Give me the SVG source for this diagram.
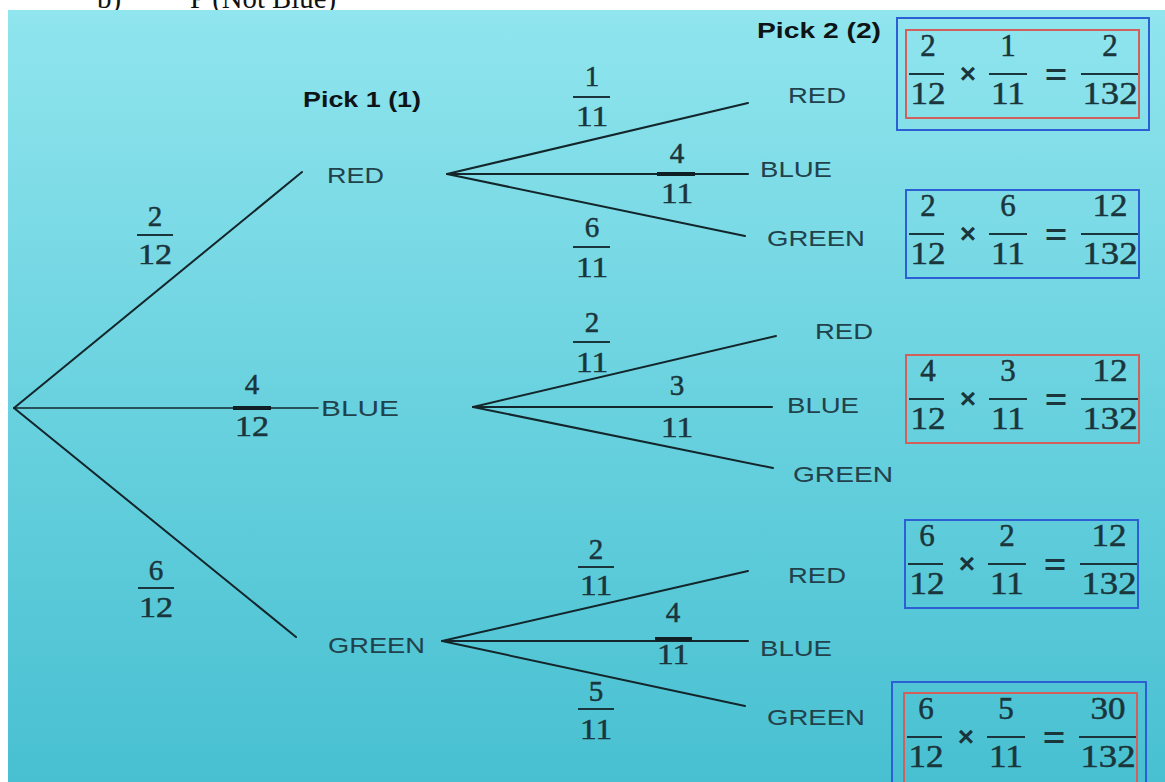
<svg xmlns="http://www.w3.org/2000/svg" width="1165" height="782" viewBox="0 0 1165 782">
<style>
.hdr{font-family:"Liberation Serif",serif;font-size:29px;fill:#111}
.lb{font-family:"Liberation Sans",Arial,sans-serif;font-size:22px;fill:#22424b}
.pk{font-family:"Liberation Sans",Arial,sans-serif;font-size:22px;font-weight:bold;fill:#0e1416}
.fr{font-family:"Liberation Serif",serif;font-size:29px;fill:#1a353b;stroke:#1a353b;stroke-width:0.5;text-anchor:middle}
.bx .fr{font-size:31px}
.op{font-family:"Liberation Sans",Arial,sans-serif;font-size:28px;font-weight:bold;fill:#1a353b;text-anchor:middle}
.ln{stroke:#13262b;stroke-width:2;fill:none;stroke-linecap:round}
.bar{stroke:#1a353b;stroke-width:2}
.tb{stroke:#0f1f24;stroke-width:4}
.bb{fill:none;stroke:#2d5fd4;stroke-width:2}
.rb{fill:none;stroke:#d35f5a;stroke-width:2}
</style>
<defs>
<linearGradient id="bg" x1="0" y1="0" x2="0" y2="1">
<stop offset="0" stop-color="#90e5ee"/>
<stop offset="0.5" stop-color="#6ad2df"/>
<stop offset="1" stop-color="#48c0d1"/>
</linearGradient>
</defs>
<rect width="1165" height="782" fill="#ffffff"/>
<text class="hdr" x="97" y="8">b)</text>
<text class="hdr" x="190" y="8" textLength="146" lengthAdjust="spacingAndGlyphs">P (Not Blue)</text>
<rect x="8" y="10" width="1157" height="772" fill="url(#bg)"/>

<g id="connectors">
<line class="ln" x1="14" y1="408" x2="302" y2="172"/>
<line class="ln" x1="14" y1="408" x2="318" y2="408" style="stroke-width:1.6"/>
<line class="ln" x1="14" y1="408" x2="296" y2="637"/>
<line class="ln" x1="447" y1="174" x2="748" y2="103"/>
<line class="ln" x1="447" y1="174" x2="748" y2="174"/>
<line class="ln" x1="447" y1="174" x2="745" y2="236"/>
<line class="ln" x1="473" y1="407" x2="776" y2="336"/>
<line class="ln" x1="473" y1="407" x2="772" y2="407"/>
<line class="ln" x1="473" y1="407" x2="773" y2="468"/>
<line class="ln" x1="442" y1="641" x2="748" y2="571"/>
<line class="ln" x1="442" y1="641" x2="748" y2="641"/>
<line class="ln" x1="442" y1="641" x2="745" y2="706"/>
</g>

<g id="edge-labels">
<text class="fr" x="155" y="226">2</text><line class="bar" x1="137" y1="235" x2="173" y2="235"/><text class="fr" x="155" y="264" textLength="34" lengthAdjust="spacingAndGlyphs">12</text>
<text class="fr" x="252" y="394">4</text><line class="tb" x1="233" y1="408" x2="271" y2="408"/><text class="fr" x="252" y="436" textLength="34" lengthAdjust="spacingAndGlyphs">12</text>
<text class="fr" x="156" y="580">6</text><line class="bar" x1="138" y1="588" x2="174" y2="588"/><text class="fr" x="156" y="617" textLength="34" lengthAdjust="spacingAndGlyphs">12</text>

<text class="fr" x="592" y="86">1</text><line class="bar" x1="573" y1="97" x2="610" y2="97"/><text class="fr" x="592" y="126" textLength="32" lengthAdjust="spacingAndGlyphs">11</text>
<text class="fr" x="677" y="163">4</text><line class="tb" x1="657" y1="174" x2="695" y2="174"/><text class="fr" x="677" y="203" textLength="32" lengthAdjust="spacingAndGlyphs">11</text>
<text class="fr" x="592" y="237">6</text><line class="bar" x1="573" y1="247" x2="610" y2="247"/><text class="fr" x="592" y="277" textLength="32" lengthAdjust="spacingAndGlyphs">11</text>

<text class="fr" x="592" y="332">2</text><line class="bar" x1="573" y1="342" x2="610" y2="342"/><text class="fr" x="592" y="372" textLength="32" lengthAdjust="spacingAndGlyphs">11</text>
<text class="fr" x="677" y="395">3</text><text class="fr" x="677" y="437" textLength="32" lengthAdjust="spacingAndGlyphs">11</text>

<text class="fr" x="596" y="559">2</text><line class="bar" x1="578" y1="567" x2="614" y2="567"/><text class="fr" x="596" y="595" textLength="32" lengthAdjust="spacingAndGlyphs">11</text>
<text class="fr" x="673" y="622">4</text><line class="tb" x1="655" y1="639" x2="692" y2="639"/><text class="fr" x="673" y="664" textLength="32" lengthAdjust="spacingAndGlyphs">11</text>
<text class="fr" x="596" y="701">5</text><line class="bar" x1="578" y1="709" x2="614" y2="709"/><text class="fr" x="596" y="739" textLength="32" lengthAdjust="spacingAndGlyphs">11</text>
</g>

<g id="headers">
<text class="pk" x="303" y="107" textLength="118" lengthAdjust="spacingAndGlyphs">Pick 1 (1)</text>
<text class="pk" x="757" y="38" textLength="124" lengthAdjust="spacingAndGlyphs">Pick 2 (2)</text>
</g>

<g id="root"><circle cx="14" cy="408" r="1" fill="#13262b"/></g>
<g id="p1-red"><text class="lb" x="327" y="183" textLength="57" lengthAdjust="spacingAndGlyphs">RED</text></g>
<g id="p1-blue"><text class="lb" x="321" y="416" textLength="78" lengthAdjust="spacingAndGlyphs">BLUE</text></g>
<g id="p1-green"><text class="lb" x="328" y="653" textLength="97" lengthAdjust="spacingAndGlyphs">GREEN</text></g>

<g id="rr"><text class="lb" x="788" y="103" textLength="58" lengthAdjust="spacingAndGlyphs">RED</text></g>
<g id="rb"><text class="lb" x="760" y="177" textLength="72" lengthAdjust="spacingAndGlyphs">BLUE</text></g>
<g id="rg"><text class="lb" x="767" y="246" textLength="98" lengthAdjust="spacingAndGlyphs">GREEN</text></g>
<g id="br"><text class="lb" x="815" y="339" textLength="58" lengthAdjust="spacingAndGlyphs">RED</text></g>
<g id="bbl"><text class="lb" x="787" y="413" textLength="72" lengthAdjust="spacingAndGlyphs">BLUE</text></g>
<g id="bg-n"><text class="lb" x="793" y="482" textLength="100" lengthAdjust="spacingAndGlyphs">GREEN</text></g>
<g id="gr"><text class="lb" x="788" y="583" textLength="58" lengthAdjust="spacingAndGlyphs">RED</text></g>
<g id="gb"><text class="lb" x="760" y="656" textLength="72" lengthAdjust="spacingAndGlyphs">BLUE</text></g>
<g id="gg"><text class="lb" x="767" y="725" textLength="98" lengthAdjust="spacingAndGlyphs">GREEN</text></g>

<g id="box-rr" class="bx">
<rect class="bb" x="897" y="18" width="252" height="112"/>
<rect class="rb" x="906" y="30" width="233" height="88"/>
<text class="fr" x="928" y="56">2</text><line class="bar" x1="909" y1="74" x2="944" y2="74"/><text class="fr" x="928" y="104" textLength="35" lengthAdjust="spacingAndGlyphs">12</text>
<text class="op" x="968" y="83">×</text>
<text class="fr" x="1008" y="56">1</text><line class="bar" x1="989" y1="74" x2="1027" y2="74"/><text class="fr" x="1008" y="104" textLength="34" lengthAdjust="spacingAndGlyphs">11</text>
<text class="op" x="1056" y="84" textLength="22" lengthAdjust="spacingAndGlyphs">=</text>
<text class="fr" x="1110" y="56">2</text><line class="bar" x1="1081" y1="74" x2="1138" y2="74"/><text class="fr" x="1110" y="104" textLength="55" lengthAdjust="spacingAndGlyphs">132</text>
</g>

<g id="box-rg" class="bx">
<rect class="bb" x="906" y="190" width="233" height="88"/>
<text class="fr" x="928" y="216">2</text><line class="bar" x1="909" y1="234" x2="944" y2="234"/><text class="fr" x="928" y="264" textLength="35" lengthAdjust="spacingAndGlyphs">12</text>
<text class="op" x="968" y="243">×</text>
<text class="fr" x="1008" y="216">6</text><line class="bar" x1="989" y1="234" x2="1027" y2="234"/><text class="fr" x="1008" y="264" textLength="34" lengthAdjust="spacingAndGlyphs">11</text>
<text class="op" x="1056" y="244" textLength="22" lengthAdjust="spacingAndGlyphs">=</text>
<text class="fr" x="1110" y="216" textLength="35" lengthAdjust="spacingAndGlyphs">12</text><line class="bar" x1="1081" y1="234" x2="1138" y2="234"/><text class="fr" x="1110" y="264" textLength="55" lengthAdjust="spacingAndGlyphs">132</text>
</g>

<g id="box-bb" class="bx">
<rect class="rb" x="906" y="355" width="233" height="88"/>
<text class="fr" x="928" y="381">4</text><line class="bar" x1="909" y1="399" x2="944" y2="399"/><text class="fr" x="928" y="429" textLength="35" lengthAdjust="spacingAndGlyphs">12</text>
<text class="op" x="968" y="408">×</text>
<text class="fr" x="1008" y="381">3</text><line class="bar" x1="989" y1="399" x2="1027" y2="399"/><text class="fr" x="1008" y="429" textLength="34" lengthAdjust="spacingAndGlyphs">11</text>
<text class="op" x="1056" y="409" textLength="22" lengthAdjust="spacingAndGlyphs">=</text>
<text class="fr" x="1110" y="381" textLength="35" lengthAdjust="spacingAndGlyphs">12</text><line class="bar" x1="1081" y1="399" x2="1138" y2="399"/><text class="fr" x="1110" y="429" textLength="55" lengthAdjust="spacingAndGlyphs">132</text>
</g>

<g id="box-gr" class="bx">
<rect class="bb" x="905" y="520" width="233" height="88"/>
<text class="fr" x="927" y="546">6</text><line class="bar" x1="908" y1="564" x2="943" y2="564"/><text class="fr" x="927" y="594" textLength="35" lengthAdjust="spacingAndGlyphs">12</text>
<text class="op" x="967" y="573">×</text>
<text class="fr" x="1007" y="546">2</text><line class="bar" x1="988" y1="564" x2="1026" y2="564"/><text class="fr" x="1007" y="594" textLength="34" lengthAdjust="spacingAndGlyphs">11</text>
<text class="op" x="1055" y="574" textLength="22" lengthAdjust="spacingAndGlyphs">=</text>
<text class="fr" x="1109" y="546" textLength="35" lengthAdjust="spacingAndGlyphs">12</text><line class="bar" x1="1080" y1="564" x2="1137" y2="564"/><text class="fr" x="1109" y="594" textLength="55" lengthAdjust="spacingAndGlyphs">132</text>
</g>

<g id="box-gg" class="bx">
<rect class="bb" x="892" y="682" width="254" height="112"/>
<rect class="rb" x="904" y="693" width="233" height="95"/>
<text class="fr" x="926" y="719">6</text><line class="bar" x1="907" y1="737" x2="942" y2="737"/><text class="fr" x="926" y="767" textLength="35" lengthAdjust="spacingAndGlyphs">12</text>
<text class="op" x="966" y="746">×</text>
<text class="fr" x="1006" y="719">5</text><line class="bar" x1="987" y1="737" x2="1025" y2="737"/><text class="fr" x="1006" y="767" textLength="34" lengthAdjust="spacingAndGlyphs">11</text>
<text class="op" x="1054" y="747" textLength="22" lengthAdjust="spacingAndGlyphs">=</text>
<text class="fr" x="1108" y="719" textLength="35" lengthAdjust="spacingAndGlyphs">30</text><line class="bar" x1="1079" y1="737" x2="1136" y2="737"/><text class="fr" x="1108" y="767" textLength="55" lengthAdjust="spacingAndGlyphs">132</text>
</g>
</svg>
